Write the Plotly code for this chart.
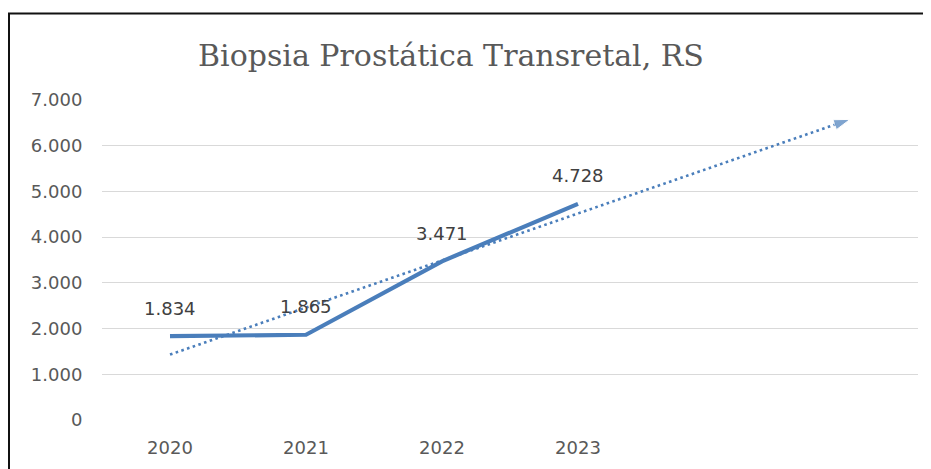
import numpy as np
import plotly.graph_objects as go

years = ["2020", "2021", "2022", "2023"]
values = [1834, 1865, 3471, 4728]
forecast_periods = 2
title_text = "Biopsia Prostática Transretal, RS"
y_ticks = [0, 1000, 2000, 3000, 4000, 5000, 6000, 7000]

OFF = 8  # default page body margin
W, H = 931 - OFF, 469 - OFF
L, R, T, B = 102 - OFF, 13, 100 - OFF, 49
pw, ph = W - L - R, H - T - B

xi = np.arange(len(values))
slope, intercept = np.polyfit(xi, values, 1)
tx = np.array([0, len(values) - 1 + forecast_periods])
ty = slope * tx + intercept

blue = "#4A7EBB"
fmt = lambda v: f"{v:,}".replace(",", ".")

fig = go.Figure()
fig.add_trace(go.Scatter(
    x=tx, y=ty, mode="lines+markers",
    line=dict(color=blue, width=2.6, dash="2.6px,3.4px"),
    marker=dict(symbol="arrow", angleref="previous", size=[0, 17], color=blue),
    hoverinfo="skip", showlegend=False,
))
fig.add_trace(go.Scatter(
    x=xi, y=values, mode="lines",
    line=dict(color=blue, width=4.2),
    showlegend=False,
))
for i, v in enumerate(values):
    fig.add_annotation(x=i, y=v, text=fmt(v), showarrow=False, yshift=28,
                       font=dict(family="DejaVu Sans", size=18, color="#404040"))

ticktext = years + [""] * forecast_periods
fig.update_xaxes(
    range=[-0.5, len(values) - 0.5 + forecast_periods],
    tickvals=list(range(len(ticktext))), ticktext=ticktext,
    showgrid=False, zeroline=False, showline=False,
    ticks="outside", ticklen=11, tickcolor="rgba(0,0,0,0)",
    tickfont=dict(family="DejaVu Sans", size=18, color="#595959"),
)
fig.update_yaxes(
    range=[0, 7000], tickvals=y_ticks, ticktext=[fmt(v) for v in y_ticks],
    showgrid=True, gridcolor="#D9D9D9", gridwidth=1, zeroline=False,
    ticks="outside", ticklen=15, tickcolor="rgba(0,0,0,0)",
    tickfont=dict(family="DejaVu Sans", size=18, color="#595959"),
)

# screen pixel -> paper coordinates
px2x = lambda p: (p - OFF - L) / pw
py2y = lambda p: (H - B - (p - OFF)) / ph
fig.add_shape(type="line", xref="paper", yref="paper",
              x0=px2x(8), x1=px2x(940), y0=py2y(13.5), y1=py2y(13.5),
              line=dict(color="#111111", width=2))
fig.add_shape(type="line", xref="paper", yref="paper",
              x0=px2x(9), x1=px2x(9), y0=py2y(13), y1=py2y(480),
              line=dict(color="#111111", width=2))

fig.add_annotation(xref="paper", yref="paper", x=px2x(451), y=py2y(55),
                   text=title_text, showarrow=False, xanchor="center", yanchor="middle",
                   font=dict(family="DejaVu Serif", size=30, color="#595959"))

fig.update_layout(
    width=W, height=H, margin=dict(l=L, r=R, t=T, b=B),
    paper_bgcolor="white", plot_bgcolor="white",
)
fig.write_html("out.html")
